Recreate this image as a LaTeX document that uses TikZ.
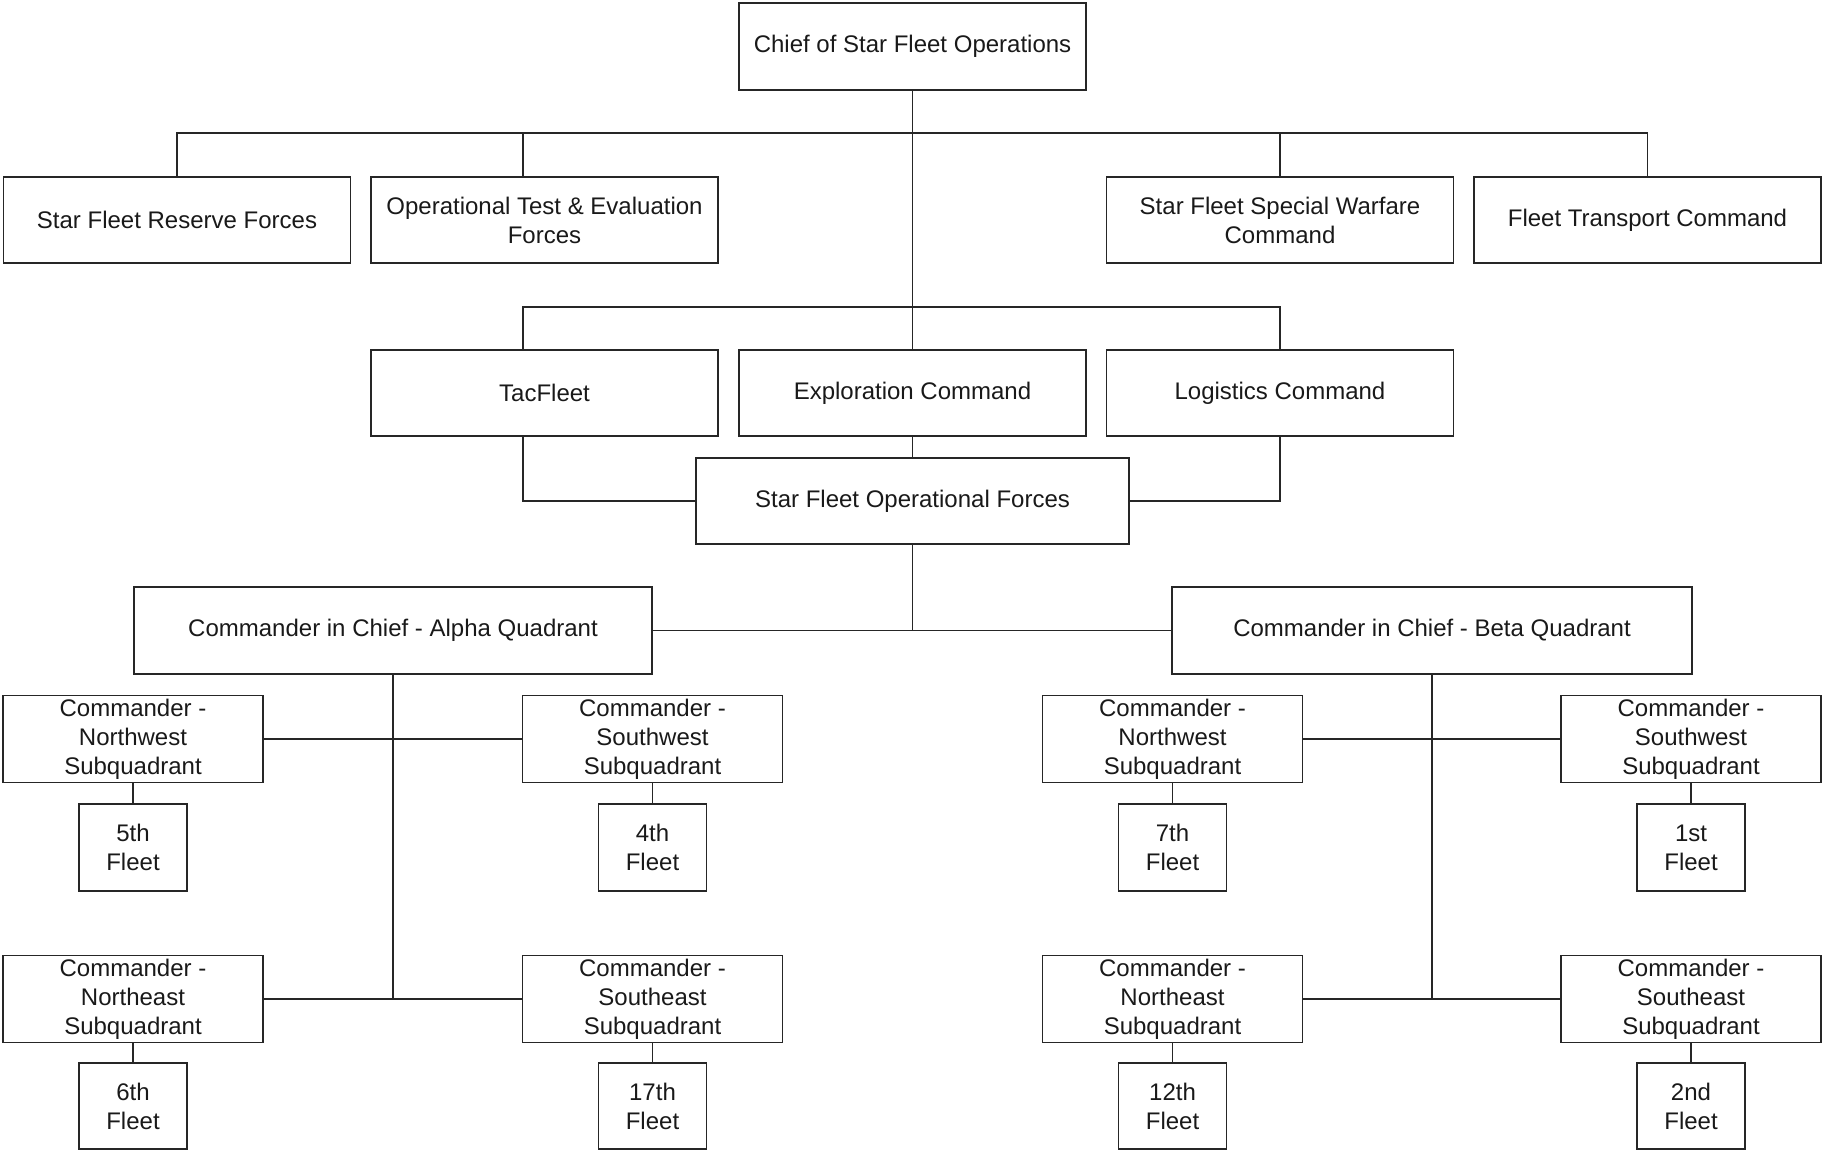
\documentclass[tikz,border=0pt]{standalone}
\usepackage{fontspec}
\setmainfont{Liberation Sans}
\begin{document}
\begin{tikzpicture}[x=1pt,y=-1pt,
  box/.style={draw=black!85,line width=1.4pt,inner sep=0pt,align=center,
    font=\fontsize{24}{29}\selectfont,text=black!90},
  wide/.style={box,minimum width=347pt,minimum height=86pt},
  sub/.style={box,minimum width=260pt,minimum height=87pt},
  fleet/.style={box,minimum width=108pt,minimum height=86pt},
  conn/.style={draw=black!85,line width=1.1pt}]
\useasboundingbox (0,0) rectangle (1823,1150);
% top
\node[wide,minimum height=87pt] (chief) at (912.5,46.5) {Chief of Star Fleet Operations};
\node[wide] (res) at (177,220) {Star Fleet Reserve Forces};
\node[wide] (ote) at (544.5,220) {Operational Test \& Evaluation\\Forces};
\node[wide] (spw) at (1280,220) {Star Fleet Special Warfare\\Command};
\node[wide] (ftc) at (1647.5,220) {Fleet Transport Command};
\node[wide] (tac) at (544.5,393) {TacFleet};
\node[wide] (expl) at (912.5,393) {Exploration Command};
\node[wide] (log) at (1280,393) {Logistics Command};
\node[box,minimum width=433pt,minimum height=86pt] (sfof) at (912.5,501) {Star Fleet Operational Forces};
\node[box,minimum width=518pt,minimum height=87pt] (alpha) at (393,630.5) {Commander in Chief - Alpha Quadrant};
\node[box,minimum width=520pt,minimum height=87pt] (beta) at (1432,630.5) {Commander in Chief - Beta Quadrant};
% subquadrants
\node[sub] (nw1) at (133,739) {Commander -\\Northwest\\Subquadrant};
\node[sub] (sw1) at (652.5,739) {Commander -\\Southwest\\Subquadrant};
\node[sub] (nw2) at (1172.5,739) {Commander -\\Northwest\\Subquadrant};
\node[sub] (sw2) at (1691,739) {Commander -\\Southwest\\Subquadrant};
\node[sub] (ne1) at (133,999) {Commander -\\Northeast\\Subquadrant};
\node[sub] (se1) at (652.5,999) {Commander -\\Southeast\\Subquadrant};
\node[sub] (ne2) at (1172.5,999) {Commander -\\Northeast\\Subquadrant};
\node[sub] (se2) at (1691,999) {Commander -\\Southeast\\Subquadrant};
% fleets
\node[fleet,minimum height=87pt] (f5) at (133,847.5) {5th\\Fleet};
\node[fleet,minimum height=87pt] (f4) at (652.5,847.5) {4th\\Fleet};
\node[fleet,minimum height=87pt] (f7) at (1172.5,847.5) {7th\\Fleet};
\node[fleet,minimum height=87pt] (f1) at (1691,847.5) {1st\\Fleet};
\node[fleet] (f6) at (133,1106) {6th\\Fleet};
\node[fleet] (f17) at (652.5,1106) {17th\\Fleet};
\node[fleet] (f12) at (1172.5,1106) {12th\\Fleet};
\node[fleet] (f2) at (1691,1106) {2nd\\Fleet};
% junction coordinates
\coordinate (j1) at (912.5,133);
\coordinate (j2) at (912.5,307);
\coordinate (xl) at (523,0);
\coordinate (jl) at (523,501);
\coordinate (jr) at (1280,501);
\coordinate (j3) at (912.5,631);
% connectors
\path[conn] (chief.south) -- (expl.north);
\path[conn] (res.north) -- (res.north |- j1) -- (ftc.north |- j1) -- (ftc.north);
\path[conn] (xl |- ote.north) -- (xl |- j1);
\path[conn] (spw.north) -- (spw.north |- j1);
\path[conn] (xl |- tac.north) -- (xl |- j2) -- (log.north |- j2) -- (log.north);
\path[conn] (xl |- tac.south) -- (jl) -- (sfof.west);
\path[conn] (log.south) -- (jr) -- (sfof.east);
\path[conn] (expl.south) -- (sfof.north);
\path[conn] (sfof.south) -- (j3);
\path[conn] (alpha.east) -- (beta.west);
\path[conn] (alpha.south) -- (alpha.south |- ne1.east);
\path[conn] (beta.south) -- (beta.south |- ne2.east);
\path[conn] (nw1.east) -- (sw1.west);
\path[conn] (ne1.east) -- (se1.west);
\path[conn] (nw2.east) -- (sw2.west);
\path[conn] (ne2.east) -- (se2.west);
\foreach \a/\b in {nw1/f5,sw1/f4,nw2/f7,sw2/f1,ne1/f6,se1/f17,ne2/f12,se2/f2}
  \path[conn] (\a.south) -- (\b.north);
\end{tikzpicture}
\end{document}
